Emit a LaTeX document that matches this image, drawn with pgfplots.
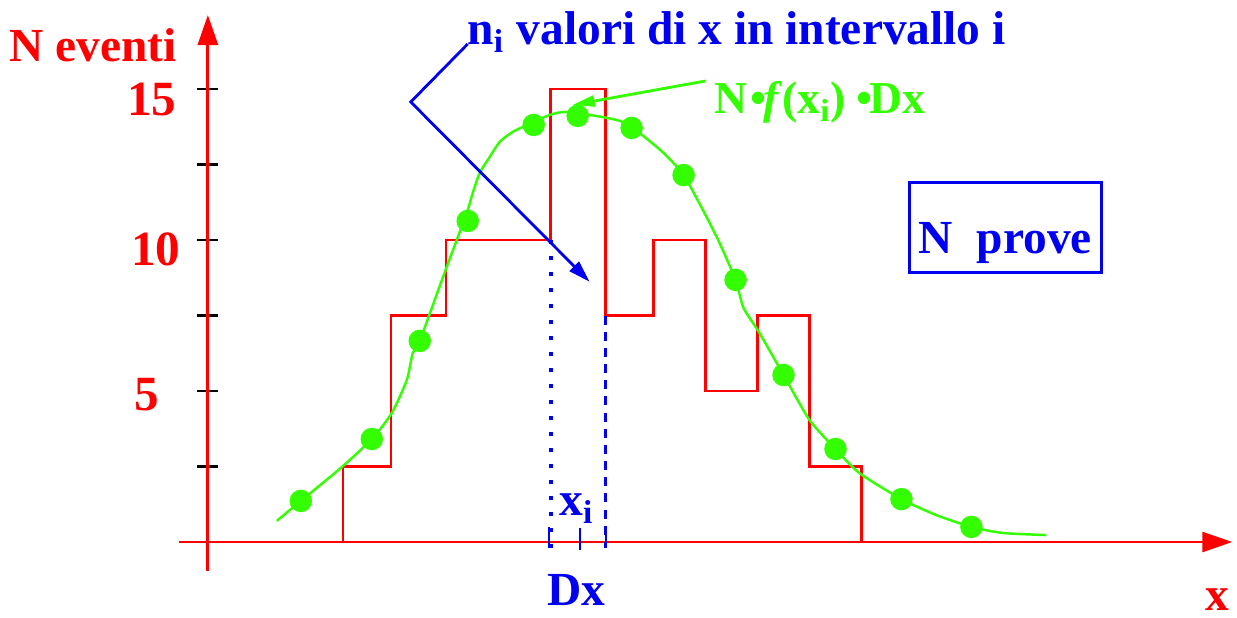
\documentclass[border=0pt]{standalone}
\usepackage{pgfplots}
\pgfplotsset{compat=1.18}
\usepackage{fontspec}
\setmainfont{Liberation Serif}
\usetikzlibrary{arrows.meta}
\definecolor{myred}{RGB}{255,0,0}
\definecolor{mygreen}{RGB}{51,255,0}
\definecolor{myblue}{RGB}{0,0,240}
\newcommand\lab{\fontsize{13.5}{16}\selectfont\bfseries}
\begin{document}
\begin{tikzpicture}
\begin{axis}[
  x=0.01cm, y=0.302cm,
  axis lines=middle,
  xmin=-29, xmax=1025, ymin=-0.96, ymax=17.45,
  axis line style={myred, line width=0.8pt, -{Triangle[length=0.3cm,width=0.2cm]}},
  xtick=\empty,
  ytick={2.5,5,7.5,10,12.5,15},
  yticklabels={},
  tick align=center, major tick length=0.21cm,
  tick style={black, line width=0.6pt},
  clip=false,
]
% histogram n_i
\addplot[myred, line width=0.7pt, const plot mark left] coordinates {
 (135,0) (135,2.5) (183,7.5) (238,10) (343,15) (398,7.5) (446,10) (498,5) (550,7.5) (602,2.5) (654,0)
};
% expected curve N f(x) Dx
\addplot[mygreen, line width=0.7pt, smooth, tension=0.4] coordinates {
 (69,0.70) (93,1.36) (134,2.48) (164,3.41) (184,4.27) (199,5.36) (205,6.26) (212,6.66)
 (239,9.11) (259,10.89) (265,11.56) (272,12.22) (282,12.75) (292,13.25) (305,13.58) (315,13.74)
 (342,14.14) (359,14.24) (395,14.07) (415,13.91) (432,13.54) (455,12.91) (476,12.15) (499,10.76)
 (512,9.90) (528,8.68) (536,7.75) (552,6.92) (576,5.53) (602,4.04) (628,3.08) (652,2.28)
 (694,1.42) (729,0.89) (764,0.50) (795,0.30) (839,0.23)
};
% expected values at bin centres
\addplot[only marks, mark=*, mark size=3pt, mygreen, mark options={fill=mygreen, draw=mygreen}] coordinates {
 (93,1.36) (164,3.41) (212,6.66) (260,10.63) (326,13.81) (370,14.11) (424,13.71)
 (476,12.15) (528,8.68) (576,5.53) (628,3.08) (694,1.42) (764,0.50)
};
% bin edges
\draw[myblue, line width=1.2pt, dash pattern=on 1.15pt off 3.4pt] (axis cs:343,10) -- (axis cs:343,-0.2);
\draw[myblue, line width=0.9pt, dash pattern=on 2.6pt off 2pt] (axis cs:398,7.5) -- (axis cs:398,-0.2);
\draw[myblue, line width=0.5pt] (axis cs:341,0.5) -- (axis cs:341,-0.2);
\draw[myblue, line width=0.5pt] (axis cs:372,0.45) -- (axis cs:372,-0.25);
\draw[myblue, line width=0.5pt] (axis cs:398,0.5) -- (axis cs:398,-0.2);
\coordinate (O) at (axis cs:-208,17.947);
\end{axis}
\begin{scope}[shift={(O)}, x=0.01cm, y=-0.01cm]
\node[myred, font=\lab] at (93,45) {N eventi};
\node[myred, font=\lab\fontsize{14}{16}\selectfont] at (152,100) {15};
\node[myred, font=\lab\fontsize{14}{16}\selectfont] at (156,250) {10};
\node[myred, font=\lab\fontsize{14}{16}\selectfont] at (147,395) {5};
\node[myblue, font=\lab, anchor=base west, inner sep=0pt] at (467,45) {n\textsubscript{i} valori di x in intervallo i};
\node[mygreen, font=\fontsize{13}{16}\selectfont\bfseries, anchor=base west, inner sep=0pt] at (714,114) {N\kern1pt•\kern-1pt\textit{f}(x\textsubscript{i})\kern3pt•\kern-1ptDx};
\draw[myblue, line width=0.8pt] (910,183) rectangle (1102,273);
\node[myblue, font=\lab, anchor=base, inner sep=0pt] at (1006,254) {N\ \ prove};
\node[myblue, font=\lab, anchor=base, inner sep=0pt] at (577,516) {x\textsubscript{i}};
\node[myblue, font=\lab, anchor=base, inner sep=0pt] at (577,606) {Dx};
\node[myred, font=\lab, anchor=base, inner sep=0pt] at (1218,611) {x};
\draw[myblue, line width=0.8pt, -{Triangle[length=0.22cm,width=0.13cm]}] (468,44) -- (411,102) -- (590,282);
\draw[mygreen, line width=0.8pt, -{Triangle[length=0.22cm,width=0.11cm]}] (706,81) -- (573,105);
\end{scope}
\pgfresetboundingbox
\path[use as bounding box] (O) rectangle ++(12.37cm,-6.17cm);
\end{tikzpicture}
\end{document}
